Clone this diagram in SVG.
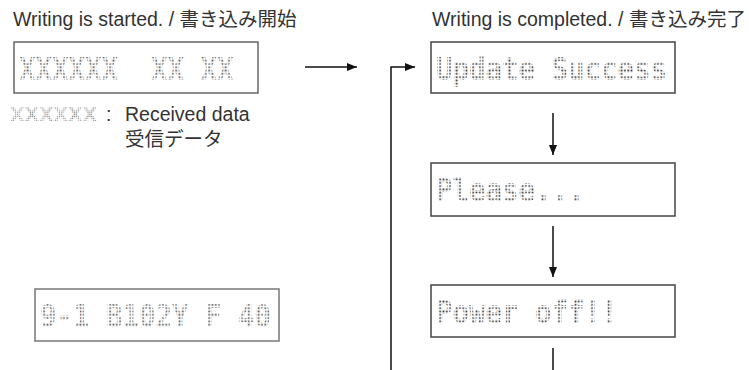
<svg xmlns="http://www.w3.org/2000/svg" width="749" height="370" viewBox="0 0 749 370">
<defs>
<pattern id="dm" width="3.3" height="3.3" patternUnits="userSpaceOnUse"><rect x="0.4" y="0.4" width="1.7" height="1.7" fill="#333"/></pattern>
<pattern id="dmG" width="3.3" height="3.3" patternUnits="userSpaceOnUse"><rect x="0.4" y="0.4" width="1.7" height="1.7" fill="#555"/></pattern>
<pattern id="dmL" width="2.1" height="2.1" patternUnits="userSpaceOnUse"><rect x="0.3" y="0.3" width="1.2" height="1.2" fill="#888"/></pattern>
<marker id="ah" viewBox="0 0 10 8" refX="10" refY="4" markerWidth="10" markerHeight="8" markerUnits="userSpaceOnUse" orient="auto"><path d="M0,0 L10,4 L0,8 Z" fill="#111"/></marker>
</defs>
<style>
.t{font-family:"Liberation Sans","Noto Sans CJK JP",sans-serif;font-size:19.5px;fill:#333}
.lcd{font-family:"DejaVu Sans Mono",monospace;font-weight:bold;font-size:31.5px;fill:url(#dm)}
.lcdG{fill:url(#dmG)}
.lcdS{font-family:"DejaVu Sans Mono",monospace;font-weight:bold;font-size:19.5px;fill:url(#dmL)}
.box{fill:#fff;stroke:#444;stroke-width:1.5}
.ln{fill:none;stroke:#111;stroke-width:1.5}
</style>
<rect width="749" height="370" fill="#fff"/>
<g id="title-start"><text class="t" x="13" y="26">Writing is started. / 書き込み開始</text></g>
<g id="title-done"><text class="t" x="432" y="26">Writing is completed. / 書き込み完了</text></g>
<g id="node-received">
<rect class="box" x="14" y="42" width="244" height="51" style="stroke:#666"/>
<text class="lcd lcdG" x="19" y="80" textLength="99" lengthAdjust="spacingAndGlyphs">XXXXXX</text>
<text class="lcd lcdG" x="151" y="80" textLength="33" lengthAdjust="spacingAndGlyphs">XX</text>
<text class="lcd lcdG" x="200.5" y="80" textLength="33" lengthAdjust="spacingAndGlyphs">XX</text>
</g>
<g id="legend">
<text class="lcdS" x="10" y="121" textLength="87" lengthAdjust="spacingAndGlyphs">XXXXXX</text>
<text class="t" x="106" y="121">:</text>
<text class="t" x="125" y="121">Received data</text>
<text class="t" x="125" y="146">受信データ</text>
</g>
<g id="node-status">
<rect class="box" x="35" y="289" width="244" height="52" style="stroke:#777"/>
<text class="lcd lcdG" x="40" y="327" textLength="231" lengthAdjust="spacingAndGlyphs" xml:space="preserve">9-1 B102Y F 40</text>
</g>
<g id="node-update">
<rect class="box" x="431" y="42" width="244" height="51"/>
<text class="lcd" x="436" y="80" textLength="231" lengthAdjust="spacingAndGlyphs" xml:space="preserve">Update Success</text>
</g>
<g id="node-please">
<rect class="box" x="431" y="163" width="244" height="53"/>
<text class="lcd" x="436" y="201" textLength="148.5" lengthAdjust="spacingAndGlyphs">Please...</text>
</g>
<g id="node-power">
<rect class="box" x="431" y="285" width="244" height="52"/>
<text class="lcd" x="436" y="323" textLength="181.5" lengthAdjust="spacingAndGlyphs" xml:space="preserve">Power off!!</text>
</g>
<g id="connectors">
<line class="ln" x1="305" y1="67" x2="357" y2="67" marker-end="url(#ah)"/>
<polyline class="ln" points="391,370 391,67 415,67" marker-end="url(#ah)"/>
<line class="ln" x1="553" y1="113" x2="553" y2="155" marker-end="url(#ah)"/>
<line class="ln" x1="553" y1="226" x2="553" y2="277" marker-end="url(#ah)"/>
<line class="ln" x1="553" y1="348" x2="553" y2="370"/>
</g>
</svg>
